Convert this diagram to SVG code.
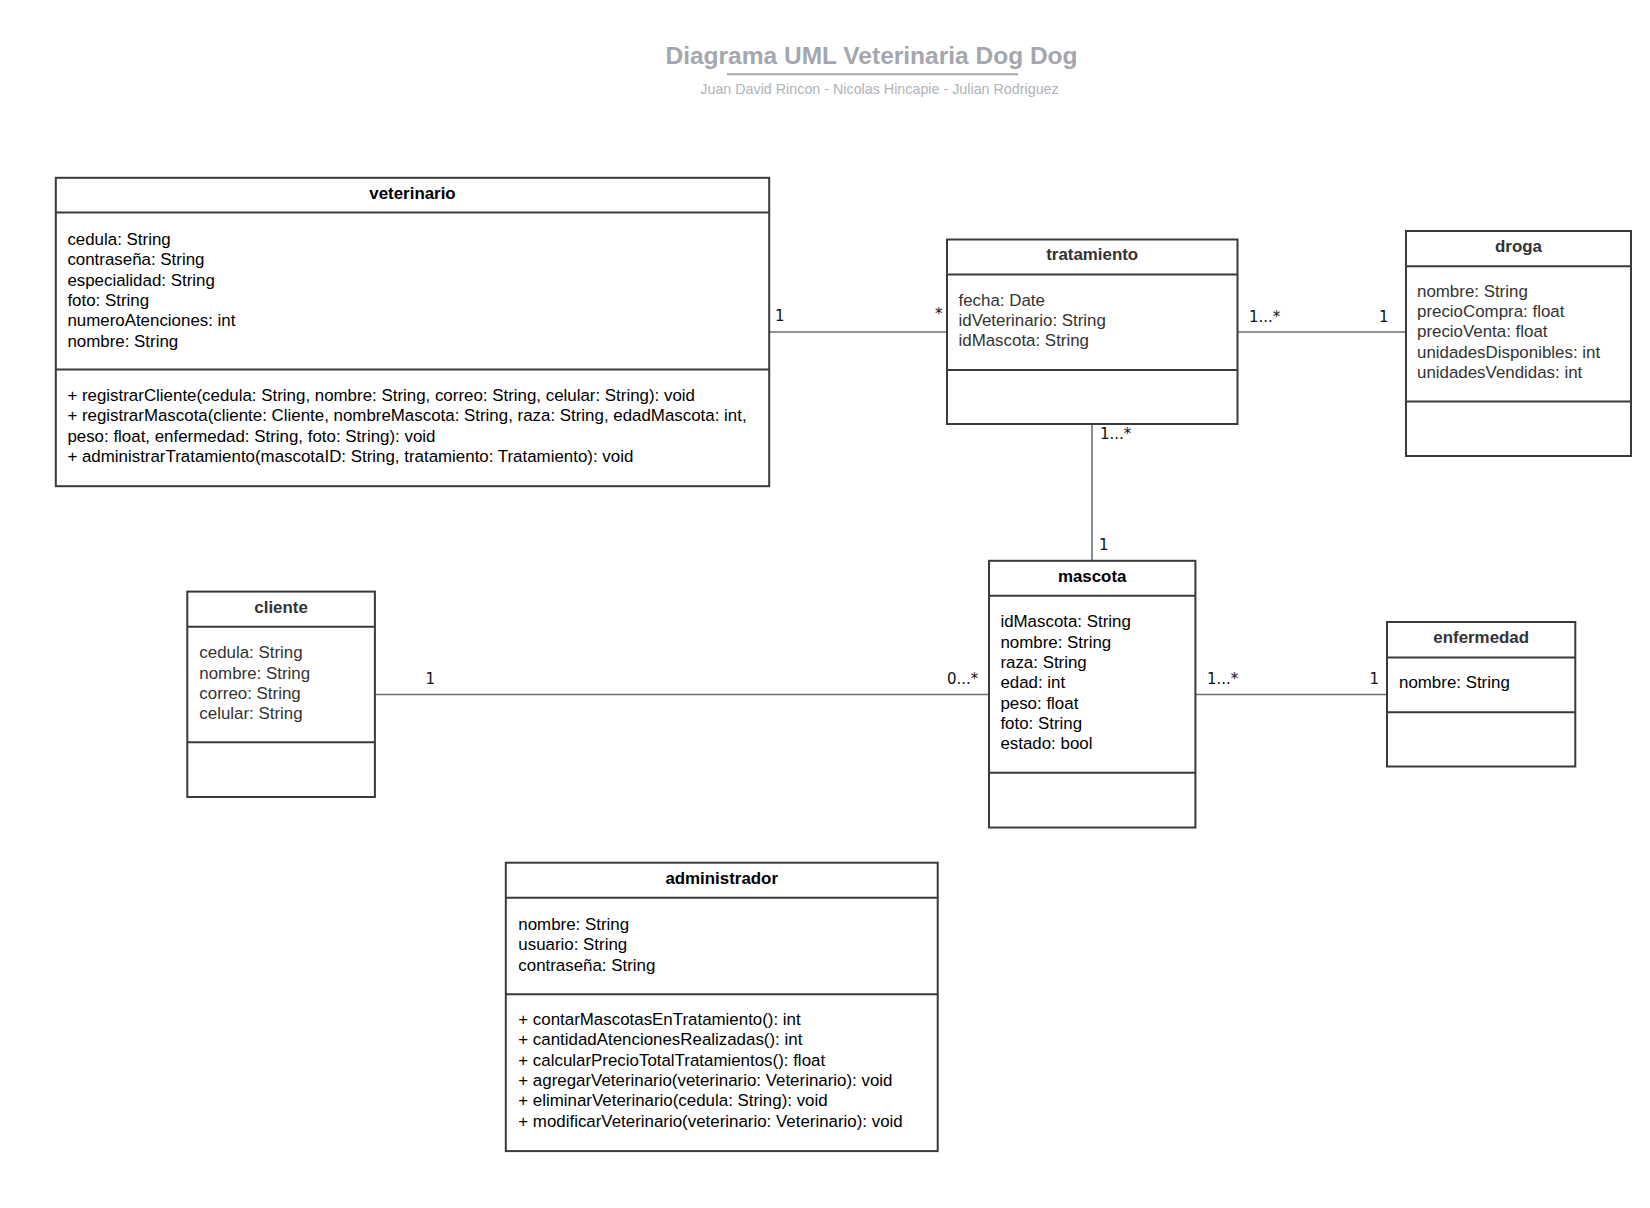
<svg xmlns="http://www.w3.org/2000/svg" width="1650" height="1208" viewBox="0 0 1650 1208">
<style>
.box{fill:#fff;stroke:#3a3a3a;stroke-width:2}
.sep{stroke:#3a3a3a;stroke-width:2}
.t{font-family:"Liberation Sans",Arial,sans-serif;font-size:16.9px;font-weight:bold;text-anchor:middle;fill:#000}
.a{font-family:"Liberation Sans",Arial,sans-serif;font-size:16.9px;fill:#000}
.g{fill:#333}
.conn{stroke:#6e6e6e;stroke-width:1.6;fill:none}
.lbl{font-family:"DejaVu Sans",sans-serif;font-size:15px;fill:#111}
</style>
<rect width="1650" height="1208" fill="#fff"/>
<g id="title">
<text x="871.5" y="63.5" font-family="Liberation Sans, Arial, sans-serif" font-size="24.5" font-weight="bold" fill="#a4a7ae" text-anchor="middle">Diagrama UML Veterinaria Dog Dog</text>
<line x1="727" y1="74.3" x2="1018" y2="74.3" stroke="#a4a7ae" stroke-width="2"/>
<text x="879.5" y="94" font-family="Liberation Sans, Arial, sans-serif" font-size="14.3" fill="#b0b3b9" text-anchor="middle">Juan David Rincon - Nicolas Hincapie - Julian Rodriguez</text>
</g>
<g id="connectors">
<line class="conn" x1="769" y1="332" x2="947" y2="332"/>
<line class="conn" x1="1237.5" y1="332" x2="1406" y2="332"/>
<line class="conn" x1="1092" y1="424" x2="1092" y2="561"/>
<line class="conn" x1="375" y1="694.5" x2="989" y2="694.5"/>
<line class="conn" x1="1195.4" y1="694.5" x2="1387" y2="694.5"/>
<text class="lbl" x="775" y="321">1</text>
<text class="lbl" x="935" y="319">*</text>
<text class="lbl" x="1249" y="321.5">1...*</text>
<text class="lbl" x="1379" y="321.5">1</text>
<text class="lbl" x="1100" y="438.5">1...*</text>
<text class="lbl" x="1099" y="550">1</text>
<text class="lbl" x="425.5" y="684">1</text>
<text class="lbl" x="947" y="684">0...*</text>
<text class="lbl" x="1207" y="683.5">1...*</text>
<text class="lbl" x="1369.5" y="683.5">1</text>
</g>
<g id="veterinario">
<rect class="box" x="55.8" y="177.8" width="713.4" height="308.4"/>
<line class="sep" x1="55.8" y1="212.6" x2="769.2" y2="212.6"/>
<line class="sep" x1="55.8" y1="369.4" x2="769.2" y2="369.4"/>
<text class="t" x="412.5" y="198.5">veterinario</text>
<text class="a" x="67.4" y="245">cedula: String</text>
<text class="a" x="67.4" y="265.3">contraseña: String</text>
<text class="a" x="67.4" y="285.6">especialidad: String</text>
<text class="a" x="67.4" y="305.9">foto: String</text>
<text class="a" x="67.4" y="326.2">numeroAtenciones: int</text>
<text class="a" x="67.4" y="346.5">nombre: String</text>
<text class="a" x="67.4" y="401">+ registrarCliente(cedula: String, nombre: String, correo: String, celular: String): void</text>
<text class="a" x="67.4" y="421.3">+ registrarMascota(cliente: Cliente, nombreMascota: String, raza: String, edadMascota: int,</text>
<text class="a" x="67.4" y="441.6">peso: float, enfermedad: String, foto: String): void</text>
<text class="a" x="67.4" y="461.9">+ administrarTratamiento(mascotaID: String, tratamiento: Tratamiento): void</text>
</g>
<g id="tratamiento">
<rect class="box" x="947" y="239.5" width="290.5" height="184.5"/>
<line class="sep" x1="947" y1="274.4" x2="1237.5" y2="274.4"/>
<line class="sep" x1="947" y1="370" x2="1237.5" y2="370"/>
<text class="t g" x="1092.2" y="260">tratamiento</text>
<text class="a g" x="958.5" y="305.7">fecha: Date</text>
<text class="a g" x="958.5" y="326">idVeterinario: String</text>
<text class="a g" x="958.5" y="346.3">idMascota: String</text>
</g>
<g id="droga">
<rect class="box" x="1406" y="231" width="225" height="225"/>
<line class="sep" x1="1406" y1="266.2" x2="1631" y2="266.2"/>
<line class="sep" x1="1406" y1="401.5" x2="1631" y2="401.5"/>
<text class="t g" x="1518.5" y="251.7">droga</text>
<text class="a g" x="1417" y="296.7">nombre: String</text>
<text class="a g" x="1417" y="317">precioCompra: float</text>
<text class="a g" x="1417" y="337.3">precioVenta: float</text>
<text class="a g" x="1417" y="357.6">unidadesDisponibles: int</text>
<text class="a g" x="1417" y="377.9">unidadesVendidas: int</text>
</g>
<g id="mascota">
<rect class="box" x="989" y="560.8" width="206.4" height="266.7"/>
<line class="sep" x1="989" y1="595.7" x2="1195.4" y2="595.7"/>
<line class="sep" x1="989" y1="772.8" x2="1195.4" y2="772.8"/>
<text class="t" x="1092.2" y="581.7">mascota</text>
<text class="a" x="1000.4" y="627.3">idMascota: String</text>
<text class="a" x="1000.4" y="647.6">nombre: String</text>
<text class="a" x="1000.4" y="667.9">raza: String</text>
<text class="a" x="1000.4" y="688.2">edad: int</text>
<text class="a" x="1000.4" y="708.5">peso: float</text>
<text class="a" x="1000.4" y="728.8">foto: String</text>
<text class="a" x="1000.4" y="749.1">estado: bool</text>
</g>
<g id="enfermedad">
<rect class="box" x="1387" y="622" width="188.3" height="144.5"/>
<line class="sep" x1="1387" y1="657.4" x2="1575.3" y2="657.4"/>
<line class="sep" x1="1387" y1="712.2" x2="1575.3" y2="712.2"/>
<text class="t g" x="1481.2" y="643.3">enfermedad</text>
<text class="a" x="1399" y="688.3" fill="#222">nombre: String</text>
</g>
<g id="cliente">
<rect class="box" x="187.3" y="591.6" width="187.6" height="205.4"/>
<line class="sep" x1="187.3" y1="626.8" x2="374.9" y2="626.8"/>
<line class="sep" x1="187.3" y1="742.2" x2="374.9" y2="742.2"/>
<text class="t g" x="281.1" y="612.7">cliente</text>
<text class="a g" x="199.3" y="658.3">cedula: String</text>
<text class="a g" x="199.3" y="678.6">nombre: String</text>
<text class="a g" x="199.3" y="698.9">correo: String</text>
<text class="a g" x="199.3" y="719.2">celular: String</text>
</g>
<g id="administrador">
<rect class="box" x="505.8" y="862.7" width="431.9" height="288.4"/>
<line class="sep" x1="505.8" y1="897.7" x2="937.7" y2="897.7"/>
<line class="sep" x1="505.8" y1="994.2" x2="937.7" y2="994.2"/>
<text class="t" x="721.7" y="884">administrador</text>
<text class="a" x="518.3" y="930">nombre: String</text>
<text class="a" x="518.3" y="950.3">usuario: String</text>
<text class="a" x="518.3" y="970.6">contraseña: String</text>
<text class="a" x="518.3" y="1025">+ contarMascotasEnTratamiento(): int</text>
<text class="a" x="518.3" y="1045.3">+ cantidadAtencionesRealizadas(): int</text>
<text class="a" x="518.3" y="1065.6">+ calcularPrecioTotalTratamientos(): float</text>
<text class="a" x="518.3" y="1085.9">+ agregarVeterinario(veterinario: Veterinario): void</text>
<text class="a" x="518.3" y="1106.2">+ eliminarVeterinario(cedula: String): void</text>
<text class="a" x="518.3" y="1126.5">+ modificarVeterinario(veterinario: Veterinario): void</text>
</g>
</svg>
